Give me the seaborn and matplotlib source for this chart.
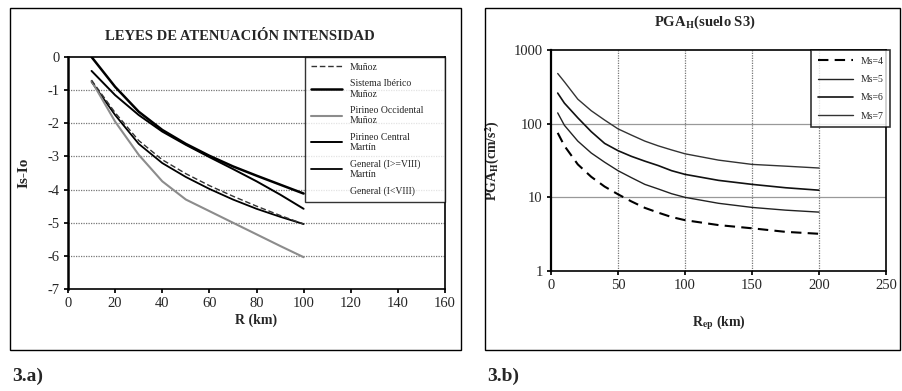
import matplotlib
matplotlib.use("Agg")
import matplotlib.pyplot as plt
import seaborn as sns
import pandas as pd
from matplotlib.lines import Line2D
from matplotlib.patches import Rectangle

# ---------------- data: 3.a) intensity attenuation ----------------
r_km = [10, 20, 30, 40, 50, 60, 70, 80, 90, 100]
munoz = [-0.70, -1.68, -2.52, -3.10, -3.52, -3.88, -4.20, -4.50, -4.78, -5.04]
sistema_iberico = [0.0, -0.90, -1.65, -2.20, -2.62, -2.98, -3.30, -3.58, -3.85, -4.12]
pirineo_occidental = [-0.72, -1.95, -2.95, -3.75, -4.30, -4.65, -5.00, -5.35, -5.70, -6.04]
pirineo_central = [-0.42, -1.15, -1.75, -2.25, -2.65, -3.02, -3.38, -3.75, -4.15, -4.58]
general_ge8 = [-0.75, -1.75, -2.62, -3.20, -3.62, -3.98, -4.30, -4.58, -4.82, -5.04]
labels_a = ["Muñoz", "Sistema Ibérico\nMuñoz", "Pirineo Occidental\nMuñoz",
            "Pirineo Central\nMartín", "General (I>=VIII)\nMartín", "General (I<VIII)"]

# ---------------- data: 3.b) PGA_H ----------------
r_ep = [5, 10, 20, 30, 40, 50, 60, 70, 80, 90, 100, 125, 150, 175, 200]
ms4 = [75, 50, 28, 19, 14, 11, 8.8, 7.2, 6.2, 5.4, 4.9, 4.2, 3.8, 3.4, 3.2]
ms5 = [140, 95, 58, 40, 30, 23, 18.5, 15, 13, 11.2, 10, 8.3, 7.3, 6.7, 6.3]
ms6 = [260, 190, 120, 78, 54, 43, 36, 31, 27, 23, 20.5, 17, 15, 13.5, 12.5]
ms7 = [480, 370, 215, 150, 112, 85, 70, 58, 50, 44, 39, 32, 28, 26.5, 25]
labels_b = ["Ms=4", "Ms=5", "Ms=6", "Ms=7"]

sns.set_theme(style="white")
plt.rcParams["font.family"] = ["Liberation Serif", "DejaVu Serif"]
plt.rcParams["mathtext.fontset"] = "stix"
plt.rcParams["axes.unicode_minus"] = False

fig = plt.figure(figsize=(9.02, 3.91), dpi=100)
W, H = 902, 391

def ax_rect(x0, y0, x1, y1):
    return [x0 / W, 1 - y1 / H, (x1 - x0) / W, (y1 - y0) / H]

# outer frames
for (x0, y0, x1, y1) in [(10, 8, 461, 350), (485, 8, 900, 350)]:
    fig.patches.append(Rectangle((x0 / W, 1 - y1 / H), (x1 - x0) / W, (y1 - y0) / H,
                                 transform=fig.transFigure, fill=False,
                                 edgecolor="black", linewidth=1.0))

# ---------------- left chart ----------------
axa = fig.add_axes(ax_rect(68, 57, 445, 289))
df_a = pd.DataFrame({"R": r_km * 5,
                     "I": munoz + sistema_iberico + pirineo_occidental + pirineo_central + general_ge8,
                     "serie": sum([[l] * len(r_km) for l in labels_a[:5]], [])})
styles_a = [
    dict(color="#333333", lw=1.0, ls=(0, (4, 2))),
    dict(color="black", lw=1.8, ls="-"),
    dict(color="#8c8c8c", lw=1.5, ls="-"),
    dict(color="black", lw=1.4, ls="-"),
    dict(color="black", lw=1.3, ls="-"),
]
order = [4, 3, 2, 1, 0]
for i in order:
    lab = labels_a[i]
    sub = df_a[df_a["serie"] == lab]
    sns.lineplot(data=sub, x="R", y="I", ax=axa, color=styles_a[i]["color"],
                 linewidth=styles_a[i]["lw"], linestyle=styles_a[i]["ls"], legend=False)
axa.set_xlim(0, 160)
axa.set_ylim(-7, 0)
axa.set_xticks(range(0, 161, 20))
axa.set_yticks(range(-7, 1))
for yv in range(-6, 0):
    axa.axhline(yv, color="#777777", lw=0.9, ls=(0, (1, 1)), zorder=0)
for s in axa.spines.values():
    s.set_color("black"); s.set_linewidth(1.2)
axa.spines["left"].set_linewidth(1.8)
axa.tick_params(axis="both", labelsize=10.5, length=3, direction="out", color="black",
                bottom=True, left=True, pad=3)
axa.set_xlabel("R (km)", fontsize=10, fontweight="bold", labelpad=2)
axa.set_ylabel("Is-Io", fontsize=11, fontweight="bold", labelpad=12)
fig.text(240 / W, 1 - 36 / H, "LEYES DE ATENUACIÓN INTENSIDAD", ha="center", va="center",
         fontsize=10.5, fontweight="bold")
handles_a = [Line2D([], [], color=styles_a[i]["color"], lw=styles_a[i]["lw"],
                    ls=styles_a[i]["ls"]) for i in range(5)]
handles_a.append(Line2D([], [], color="none"))
leg = axa.legend(handles_a, labels_a, loc="upper left",
                 bbox_to_anchor=(0.629, 1.0, 0.371, 0.0), mode="expand",
                 frameon=True, fancybox=False, edgecolor="black", fontsize=7,
                 handlelength=3.2, labelspacing=0.75, borderaxespad=0.0, borderpad=0.6)
leg.get_frame().set_linewidth(1.0)

# ---------------- right chart ----------------
axb = fig.add_axes(ax_rect(551, 50, 886, 271))
df_b = pd.DataFrame({"R": r_ep * 4, "PGA": ms4 + ms5 + ms6 + ms7,
                     "Ms": sum([[l] * len(r_ep) for l in labels_b], [])})
styles_b = [
    dict(color="black", lw=1.5, ls=(0, (5, 3))),
    dict(color="#222222", lw=1.0, ls="-"),
    dict(color="#111111", lw=1.2, ls="-"),
    dict(color="#333333", lw=1.0, ls="-"),
]
for i, lab in enumerate(labels_b):
    sub = df_b[df_b["Ms"] == lab]
    sns.lineplot(data=sub, x="R", y="PGA", ax=axb, color=styles_b[i]["color"],
                 linewidth=styles_b[i]["lw"], linestyle=styles_b[i]["ls"], legend=False)
axb.set_yscale("log")
axb.set_xlim(0, 250)
axb.set_ylim(1, 1000)
axb.set_xticks(range(0, 251, 50))
axb.set_yticks([1, 10, 100, 1000])
axb.set_yticklabels(["1", "10", "100", "1000"])
axb.minorticks_off()
for xv in [50, 100, 150, 200]:
    axb.axvline(xv, color="#777777", lw=0.9, ls=(0, (1, 1)), zorder=0)
for yv in [10, 100]:
    axb.axhline(yv, color="#999999", lw=0.9, zorder=0)
for s in axb.spines.values():
    s.set_color("black"); s.set_linewidth(1.2)
axb.spines["left"].set_linewidth(1.6)
axb.tick_params(axis="both", labelsize=10.5, length=3, direction="out", color="black",
                bottom=True, left=True, pad=3)
axb.set_xlabel(r"R$_{\mathbf{ep}}$ (km)", fontsize=10, fontweight="bold", labelpad=15)
axb.set_ylabel(r"PGA$_{\mathbf{H}}$(cm/s$^{\mathbf{2}}$)", fontsize=10, fontweight="bold", labelpad=8)
fig.text(705 / W, 1 - 22 / H, r"PGA$_{\mathbf{H}}$(suelo S3)", ha="center", va="center",
         fontsize=10.5, fontweight="bold")
handles_b = [Line2D([], [], color=styles_b[i]["color"], lw=styles_b[i]["lw"],
                    ls=styles_b[i]["ls"]) for i in range(4)]
legb = axb.legend(handles_b, labels_b, loc="upper left",
                  bbox_to_anchor=(0.776, 1.0, 0.236, 0.0), mode="expand",
                  frameon=True, fancybox=False, edgecolor="black", fontsize=7,
                  handlelength=3.6, labelspacing=0.95, borderaxespad=0.0, borderpad=0.7)
legb.get_frame().set_linewidth(1.2)

fig.text(12 / W, 1 - 376 / H, "3.a)", fontsize=14, fontweight="bold", va="center")
fig.text(487 / W, 1 - 376 / H, "3.b)", fontsize=14, fontweight="bold", va="center")

fig.savefig("out.png", dpi=100)
